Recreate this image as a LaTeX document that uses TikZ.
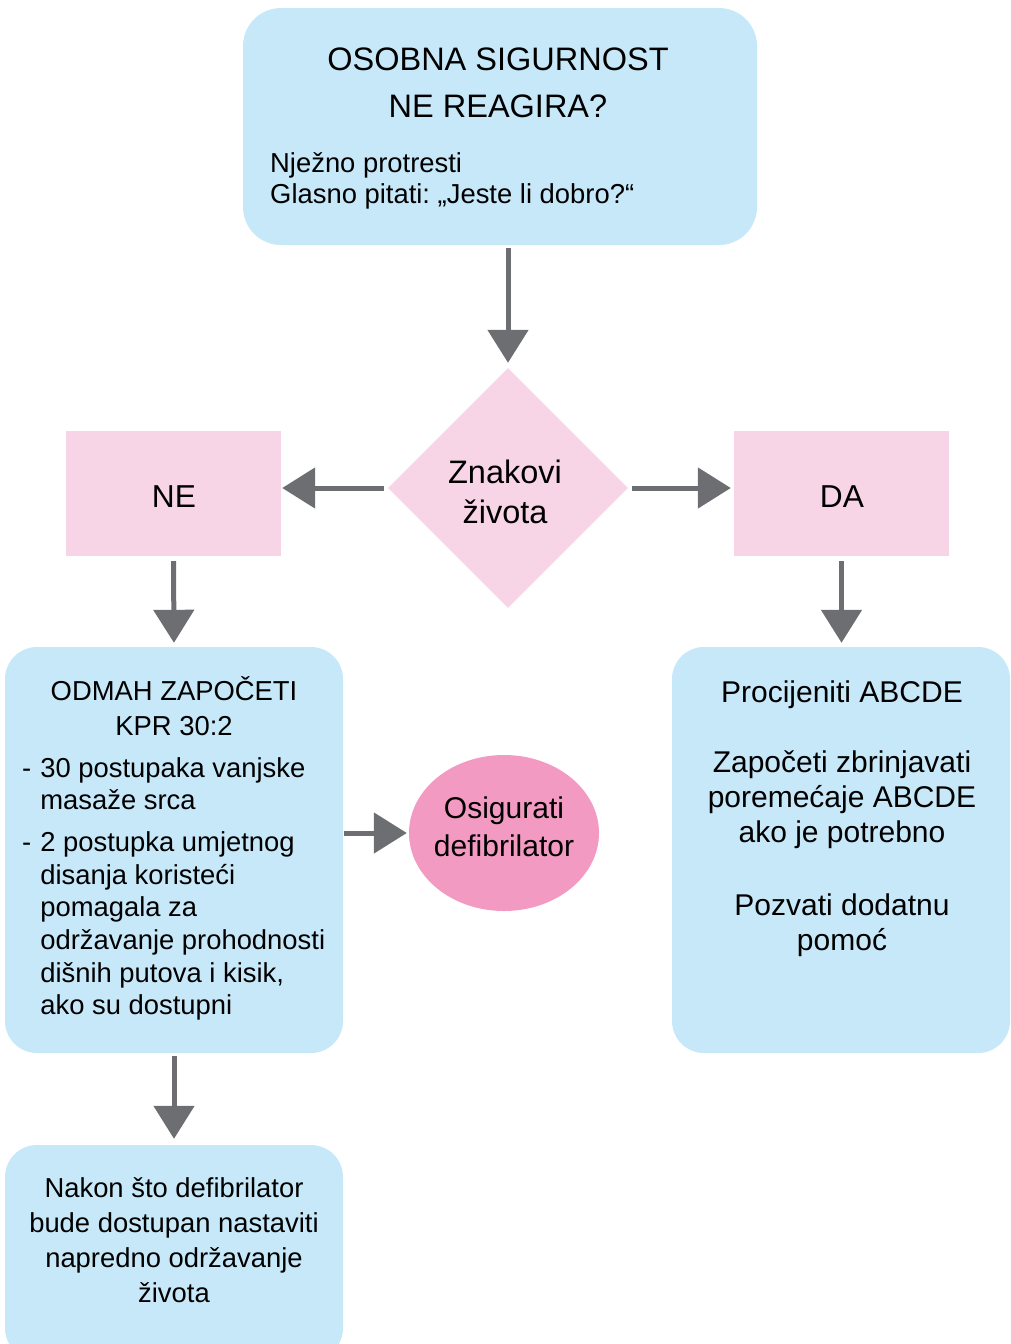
\documentclass[tikz,border=0pt]{standalone}
\usepackage{fontspec}
\setmainfont{Liberation Sans}
\usetikzlibrary{shapes.geometric,arrows.meta}
\frenchspacing

\definecolor{boxblue}{HTML}{C7E8F8}
\definecolor{boxpink}{HTML}{F8D5E6}
\definecolor{dotpink}{HTML}{F39AC3}
\definecolor{arrowgray}{HTML}{6D6E71}

\tikzset{
  bluebox/.style={draw=none, fill=boxblue, rounded corners=32pt, inner sep=0pt},
  pinkbox/.style={draw=none, fill=boxpink, inner sep=0pt},
  decision/.style={diamond, draw=none, fill=boxpink, inner sep=0pt, aspect=1},
  goal/.style={ellipse, draw=none, fill=dotpink, inner sep=0pt},
  txt/.style={inner sep=0pt, anchor=base, text=black},
  flow/.style={draw=arrowgray, line width=5pt, -{Triangle[length=33pt,width=40pt]}},
}

\newcommand{\fsz}[2]{\fontsize{#1pt}{#2pt}\selectfont}

\begin{document}
\begin{tikzpicture}[x=1pt,y=-1pt]
  \useasboundingbox (0,0) rectangle (1011,1344);
  \clip (0,0) rectangle (1011,1344);

  % shapes
  \node[bluebox, rounded corners=38pt, minimum width=514pt, minimum height=237pt] (top) at (500,126.5) {};
  \node[decision, minimum width=240pt, minimum height=240pt] (dia) at (508,488) {};
  \node[pinkbox, minimum width=215pt, minimum height=125pt] (ne) at (173.5,493.5) {};
  \node[pinkbox, minimum width=215pt, minimum height=125pt] (da) at (841.5,493.5) {};
  \node[bluebox, minimum width=338pt, minimum height=406pt] (cpr) at (174,850) {};
  \node[bluebox, minimum width=338pt, minimum height=406pt] (abc) at (841,850) {};
  \node[goal, minimum width=190pt, minimum height=156pt] (aed) at (504,833) {};
  \node[bluebox, minimum width=338pt, minimum height=215pt] (als) at (174,1252.5) {};

  % texts
  \node[txt, font=\fsz{32.5}{47}] (toptitle) at (498,70)
    {\begin{tabular}[t]{@{}c@{}}OSOBNA SIGURNOST\\NE REAGIRA?\end{tabular}};
  \node[txt, anchor=base west, font=\fsz{27.4}{31}] (topbody) at (270,172)
    {\begin{tabular}[t]{@{}l@{}}Nježno protresti\\Glasno pitati: „Jeste li dobro?“\end{tabular}};
  \node[txt, font=\fsz{32.5}{40}] (diatext) at (505,483)
    {\begin{tabular}[t]{@{}c@{}}Znakovi\\života\end{tabular}};
  \node[txt, font=\fsz{31.7}{38}] (netext) at (174,507) {NE};
  \node[txt, font=\fsz{31.7}{38}] (datext) at (842,507) {DA};
  \node[txt, font=\fsz{27.4}{35}] (cprtitle) at (174,700)
    {\begin{tabular}[t]{@{}c@{}}ODMAH ZAPOČETI\\KPR 30:2\end{tabular}};
  \node[txt, anchor=base west, font=\fsz{27.4}{32.6}] (cprlist) at (22,777)
    {\begin{tabular}[t]{@{}l@{\hspace{9pt}}l@{}}
      - & 30 postupaka vanjske\\
        & masaže srca\\[9.5pt]
      - & 2 postupka umjetnog\\
        & disanja koristeći\\
        & pomagala za\\
        & održavanje prohodnosti\\
        & dišnih putova i kisik,\\
        & ako su dostupni
    \end{tabular}};
  \node[txt, font=\fsz{30}{38}] (aedtext) at (504,818)
    {\begin{tabular}[t]{@{}c@{}}Osigurati\\defibrilator\end{tabular}};
  \node[txt, font=\fsz{30}{35}] (abctext) at (842,702)
    {\begin{tabular}[t]{@{}c@{}}Procijeniti ABCDE\\ \\Započeti zbrinjavati\\poremećaje ABCDE\\ako je potrebno\\[3pt] \\Pozvati dodatnu\\pomoć\end{tabular}};
  \node[txt, font=\fsz{27.4}{35}] (alstext) at (174,1197)
    {\begin{tabular}[t]{@{}c@{}}Nakon što defibrilator\\bude dostupan nastaviti\\napredno održavanje\\života\end{tabular}};

  % connectors
  \draw[flow, shorten <=3pt, shorten >=5pt] (dia.north |- top.south) -- (dia.north);
  \draw[flow, shorten <=4pt, shorten >=1pt] (dia.west) -- (ne.east |- dia.west);
  \draw[flow, shorten <=4pt, shorten >=3pt] (dia.east) -- (da.west |- dia.east);
  \draw[flow, shorten <=5pt, shorten >=4pt] (ne.south) -- (cpr.north);
  \draw[flow, shorten <=5pt, shorten >=4pt] (da.south) -- (abc.north -| da.south);
  \draw[flow, shorten <=1pt, shorten >=2pt] (cpr.east |- aed.west) -- (aed.west);
  \draw[flow, shorten <=3pt, shorten >=6pt] (cpr.south) -- (als.north);
\end{tikzpicture}
\end{document}
